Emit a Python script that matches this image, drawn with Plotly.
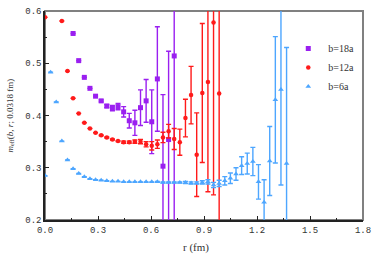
import plotly.graph_objects as go

a = 0.0318

# b=18a (purple squares)
n18 = list(range(5, 24))
v18 = [0.557, 0.505, 0.473, 0.452, 0.437, 0.428, 0.418, 0.414, 0.417, 0.407,
       0.390, 0.386, 0.415, 0.428, 0.388, 0.470, 0.303, 0.354, 0.514]
e18 = [0.0, 0.0, 0.0, 0.0, 0.0, 0.002, 0.003, 0.005, 0.006, 0.010,
       0.014, 0.024, 0.034, 0.041, 0.061, 0.100, 0.137, 0.169, 0.35]

# b=12a (red circles)
n12 = [0] + list(range(3, 32))
v12 = [0.588, 0.581, 0.485, 0.433, 0.404, 0.386, 0.375, 0.367, 0.362, 0.358,
       0.354, 0.351, 0.349, 0.349, 0.350, 0.350, 0.345, 0.342, 0.345, 0.358,
       0.370, 0.355, 0.349, 0.395, 0.439, 0.325, 0.443, 0.464, 0.578, 0.442]
e12 = [0.0, 0.0, 0.0, 0.0, 0.0, 0.0, 0.0, 0.0, 0.001, 0.001,
       0.001, 0.001, 0.002, 0.002, 0.003, 0.004, 0.005, 0.008, 0.008, 0.010,
       0.013, 0.020, 0.025, 0.036, 0.055, 0.080, 0.133, 0.210, 0.33, 0.40]

# b=6a (blue triangles)
n6 = list(range(0, 44))
v6 = [0.285, 0.483, 0.426, 0.351, 0.315, 0.298, 0.289, 0.283, 0.279, 0.277,
      0.276, 0.275, 0.274, 0.274, 0.273, 0.273, 0.273, 0.273, 0.273, 0.273,
      0.273, 0.272, 0.272, 0.272, 0.272, 0.272, 0.271, 0.271, 0.272, 0.273,
      0.267, 0.270, 0.275, 0.280, 0.288, 0.304, 0.308, 0.312, 0.273, 0.234,
      0.313, 0.430, 0.450, 0.308]
e6 = [0.0, 0.0, 0.0, 0.0, 0.0, 0.0, 0.0, 0.0, 0.0, 0.0,
      0.0, 0.0, 0.0, 0.0, 0.0, 0.0, 0.0, 0.0, 0.0, 0.0,
      0.001, 0.001, 0.001, 0.001, 0.001, 0.002, 0.002, 0.002, 0.003, 0.004,
      0.005, 0.006, 0.008, 0.010, 0.012, 0.017, 0.020, 0.027, 0.033, 0.043,
      0.066, 0.121, 0.183, 0.222]

x_ticks = [0.0, 0.3, 0.6, 0.9, 1.2, 1.5, 1.8]
y_ticks = [0.2, 0.3, 0.4, 0.5, 0.6]
x_title = "r (fm)"
y_title = "<i>m</i><sub>eff</sub>(<i>b</i>, <i>r</i>; 0.0318 fm)"

PURPLE = "#9a1ff0"
RED = "#ff1a1a"
BLUE = "#4da6ff"

fig = go.Figure()

def add(ns, vs, es, name, color, symbol, size):
    fig.add_trace(go.Scatter(
        x=[n * a for n in ns], y=vs, mode="markers", name=name,
        marker=dict(color=color, symbol=symbol, size=size, line=dict(width=0)),
        error_y=dict(type="data", array=es, visible=True, color=color,
                     thickness=1.4, width=2.5),
    ))

add(n18, v18, e18, "b=18a", PURPLE, "square", 5)
add(n12, v12, e12, "b=12a", RED, "circle", 4.5)
add(n6, v6, e6, "b=6a", BLUE, "triangle-up", 5)

tickfont = dict(family="Liberation Mono", size=9, color="#333")

fig.update_layout(
    width=374, height=255,
    margin=dict(l=45, r=11, t=11, b=35),
    paper_bgcolor="white", plot_bgcolor="white",
    showlegend=True,
    legend=dict(x=0.765, y=0.89, xanchor="left", yanchor="top",
                font=dict(family="Liberation Serif", size=10, color="#333"),
                bgcolor="rgba(0,0,0,0)", itemwidth=30, tracegroupgap=0),
    xaxis=dict(range=[0, 1.8], tickvals=x_ticks,
               ticktext=[f"{t:.1f}" for t in x_ticks],
               ticks="inside", ticklen=4, tickcolor="#222",
               minor=dict(dtick=0.15, ticks="inside", ticklen=2, tickcolor="#222"),
               showgrid=False, zeroline=False, showline=True,
               linecolor="#222", linewidth=1.5, automargin=False,
               ticklabeloverflow="allow",
               tickfont=tickfont),
    yaxis=dict(range=[0.2, 0.6], tickvals=y_ticks,
               ticktext=[f"{t:.1f}" for t in y_ticks],
               ticks="inside", ticklen=4, tickcolor="#222",
               minor=dict(dtick=0.05, ticks="inside", ticklen=2, tickcolor="#222"),
               showgrid=False, zeroline=False, showline=True,
               linecolor="#222", linewidth=1.5, automargin=False,
               ticklabeloverflow="allow",
               tickfont=tickfont),
    annotations=[
        dict(text=x_title, xref="paper", yref="paper", x=0.474, y=0,
             xanchor="center", yanchor="middle", yshift=-27, showarrow=False,
             font=dict(family="Liberation Serif", size=11, color="#333")),
        dict(text=y_title, xref="paper", yref="paper", x=0, y=0.5,
             xanchor="center", yanchor="middle", xshift=-35, textangle=-90,
             showarrow=False,
             font=dict(family="Liberation Serif", size=9, color="#333")),
    ],
    shapes=[dict(type="rect", xref="paper", yref="paper", x0=0, x1=1, y0=0, y1=1,
                 line=dict(color="#808080", width=2), layer="below")],
)

fig.write_html("out.html", config={"displayModeBar": False},
               post_script="document.body.style.margin='0';")
